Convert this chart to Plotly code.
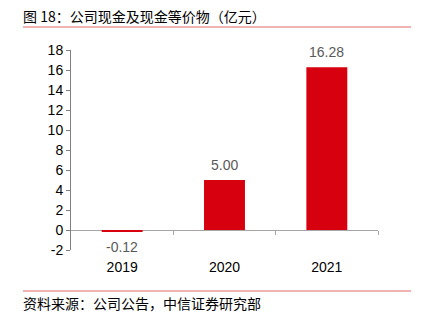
import plotly.graph_objects as go

categories = ["2019", "2020", "2021"]
values = [-0.12, 5.00, 16.28]
labels = ["-0.12", "5.00", "16.28"]
y_ticks = [-2, 0, 2, 4, 6, 8, 10, 12, 14, 16, 18]

RED = "#D7000F"
NUM_FONT = "Liberation Sans, Arial, sans-serif"
CJK_FONT = "Noto Sans CJK SC, sans-serif"

fig = go.Figure()
# second x axis carrying the axis line and boundary ticks at y=0
fig.add_trace(go.Scatter(x=[0], y=[0], xaxis="x2", mode="markers",
                         marker=dict(opacity=0), showlegend=False, hoverinfo="skip"))
fig.add_trace(go.Bar(
    x=categories, y=values, marker_color=RED, marker_line_width=0,
    width=0.4, showlegend=False, hoverinfo="skip",
))

# value labels (category index positions)
for i, (v, t) in enumerate(zip(values, labels)):
    fig.add_annotation(
        x=i, y=v, text=t, showarrow=False,
        yshift=15 if v >= 0 else -16,
        font=dict(family=NUM_FONT, size=14, color="#595959"),
    )

fig.update_layout(
    width=428, height=325,
    margin=dict(l=71, r=50, t=50, b=75),
    paper_bgcolor="white", plot_bgcolor="white",
    xaxis=dict(
        type="category", categoryarray=categories, range=[-0.5, 2.5],
        showline=False, ticks="", showgrid=False, zeroline=False,
        tickfont=dict(family=NUM_FONT, size=14, color="#000000"),
        ticklabelstandoff=7,
    ),
    xaxis2=dict(
        overlaying="x", anchor="free", position=0.1,
        range=[-0.5, 2.5], tickvals=[0.5, 1.5, 2.5], showticklabels=False,
        ticks="outside", ticklen=4, tickcolor="#A6A6A6",
        showline=True, linecolor="#A6A6A6", linewidth=1,
        showgrid=False, zeroline=False, layer="below traces",
    ),
    yaxis=dict(
        range=[-2, 18], tickvals=y_ticks, ticktext=[str(v) for v in y_ticks],
        showline=True, linecolor="#808080", linewidth=1,
        ticks="outside", ticklen=4, tickcolor="#808080",
        showgrid=False, zeroline=False,
        tickfont=dict(family=NUM_FONT, size=14, color="#000000"),
    ),
    font=dict(family=NUM_FONT),
)

# title and source
fig.add_annotation(
    xref="paper", yref="paper", x=-(71 - 21)/307, y=1 + (50 - 16)/200, xanchor="left", yanchor="middle",
    text="图 18：公司现金及现金等价物（亿元）", showarrow=False,
    font=dict(family=CJK_FONT, size=14, color="#000000"),
)
fig.add_annotation(
    xref="paper", yref="paper", x=-(71 - 21)/307, y=-(303 - 250)/200, xanchor="left", yanchor="middle",
    text="资料来源：公司公告，中信证券研究部", showarrow=False,
    font=dict(family=CJK_FONT, size=14, color="#000000"),
)
fig.add_shape(type="line", xref="paper", yref="paper",
              x0=-(71 - 23)/307, x1=(411 - 71)/307, y0=1 + (50 - 27)/200, y1=1 + (50 - 27)/200,
              line=dict(color="#E06666", width=1))
fig.add_shape(type="line", xref="paper", yref="paper",
              x0=-(71 - 23)/307, x1=(411 - 71)/307, y0=-(291 - 250)/200, y1=-(291 - 250)/200,
              line=dict(color="#E06666", width=1))

fig.write_html("out.html")
